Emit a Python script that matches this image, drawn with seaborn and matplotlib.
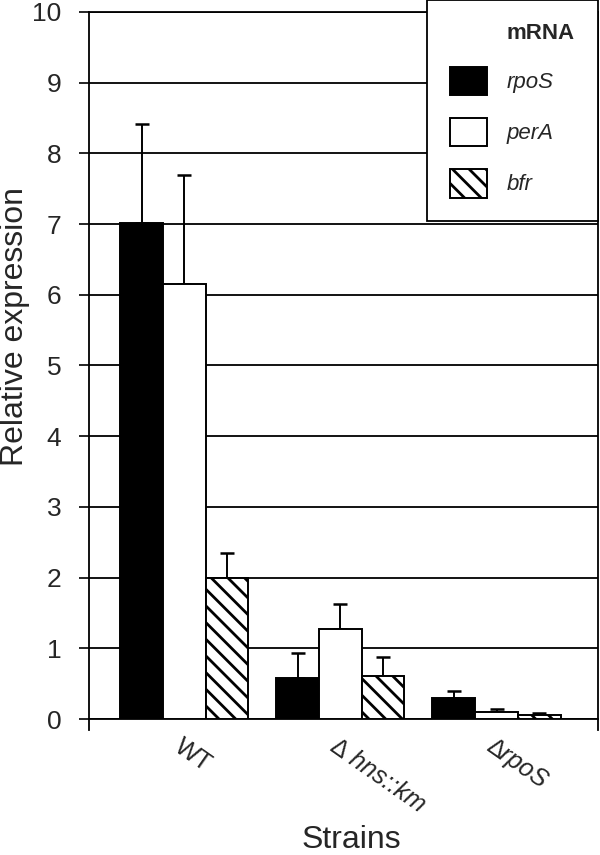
import matplotlib
matplotlib.use("Agg")
import matplotlib.pyplot as plt
import seaborn as sns
import numpy as np
import pandas as pd

strains = ["WT", "∆ hns::km", "∆rpoS"]
strain_styles = ["normal", "italic", "italic"]
genes = ["rpoS", "perA", "bfr"]
rpoS_vals = [7.02, 0.58, 0.30]
perA_vals = [6.15, 1.27, 0.10]
bfr_vals = [2.00, 0.61, 0.06]
rpoS_err = [1.40, 0.35, 0.10]
perA_err = [1.55, 0.35, 0.04]
bfr_err = [0.35, 0.26, 0.02]
yticks = list(range(0, 11))

sns.set_theme(style="white")
plt.rcParams['font.family'] = ['Liberation Sans', 'DejaVu Sans']
plt.rcParams['hatch.linewidth'] = 2.0
plt.rcParams['hatch.color'] = 'black'

vals = {"rpoS": rpoS_vals, "perA": perA_vals, "bfr": bfr_vals}
errs = {"rpoS": rpoS_err, "perA": perA_err, "bfr": bfr_err}
rows = []
for g in genes:
    for s, v, e in zip(strains, vals[g], errs[g]):
        rows.append({"Strain": s, "mRNA": g, "value": v, "err": e})
df = pd.DataFrame(rows)

fig = plt.figure(figsize=(6, 8.55), dpi=100)
ax = fig.add_axes([89/600, 1 - 719/855, (598-89)/600, (719-12)/855])

palette = {"rpoS": "black", "perA": "white", "bfr": "white"}
sns.barplot(data=df, x="Strain", y="value", hue="mRNA", hue_order=genes,
            order=strains, palette=palette, errorbar=None, width=0.82,
            edgecolor="black", linewidth=1.4, saturation=1, ax=ax, zorder=3)

hatches = {"rpoS": "", "perA": "", "bfr": "\\\\"}
for cont, g in zip(ax.containers, genes):
    xs = []
    hs = []
    for p in cont:
        p.set_hatch(hatches[g])
        p.set_edgecolor("black")
        xs.append(p.get_x() + p.get_width() / 2)
        hs.append(p.get_height())
    e = np.array(errs[g])
    ax.errorbar(xs, hs, yerr=[np.zeros_like(e), e], fmt="none", ecolor="black",
                elinewidth=1.4, capsize=5, capthick=1.8, zorder=2)

ax.set_ylim(0, 10)
ax.set_xlim(-0.61, 2.65)
ax.set_yticks(yticks)
ax.set_yticklabels([str(t) for t in yticks], fontsize=19)
ax.yaxis.grid(True, color="black", linewidth=1.3)
ax.set_axisbelow(True)
for sp in ax.spines.values():
    sp.set_color("black")
    sp.set_linewidth(1.3)
    sp.set_visible(True)
ax.spines["left"].set_bounds(-0.15, 10)
ax.spines["right"].set_bounds(-0.15, 10)
ax.tick_params(axis="y", direction="out", length=7, width=1.2, color="black", pad=13, left=True)
ax.tick_params(axis="x", length=0, pad=11)
ax.set_xticks(range(len(strains)))
ax.set_xticklabels(strains, rotation=-35, ha="left", va="top",
                   rotation_mode="anchor", fontsize=18)
for lab, st in zip(ax.get_xticklabels(), strain_styles):
    lab.set_fontstyle(st)

ax.set_ylabel("Relative expression", fontsize=23)
ax.yaxis.set_label_coords(-0.116, 0.555)
ax.set_xlabel("Strains", fontsize=23)
ax.xaxis.set_label_coords(0.515, -0.15)

handles, labels = ax.get_legend_handles_labels()
leg = ax.legend(handles, genes, title="mRNA", loc="upper left",
                bbox_to_anchor=(427/600, 0.0, 171/600, 1.0), mode="expand",
                bbox_transform=fig.transFigure,
                borderaxespad=0, frameon=True, fancybox=False, framealpha=1,
                edgecolor="black", prop={"style": "italic", "size": 16},
                title_fontproperties={"weight": "bold", "size": 16},
                handlelength=1.67, handleheight=1.62, labelspacing=1.0,
                handletextpad=0.85, borderpad=1.05, alignment="right")
leg.get_frame().set_linewidth(1.3)
leg.set_zorder(5)
for h, g in zip(leg.legend_handles, genes):
    h.set_edgecolor("black")
    h.set_linewidth(1.4)
    h.set_hatch(hatches[g])

fig.savefig("out.png", dpi=100)
